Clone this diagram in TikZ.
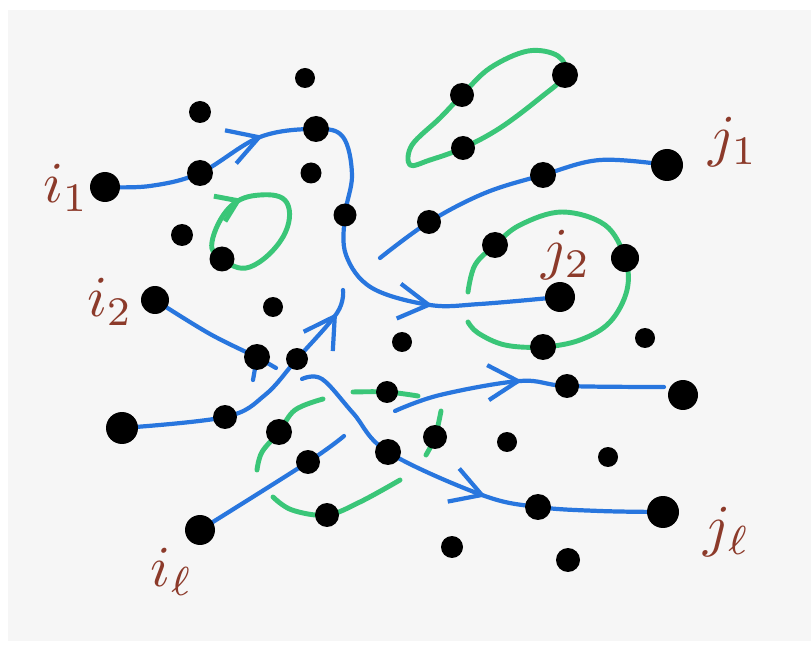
\documentclass[tikz,border=0pt]{standalone}
\usepackage{tikz}
\usetikzlibrary{arrows.meta,decorations.markings}
\definecolor{inkblue}{RGB}{40,118,222}
\definecolor{inkgreen}{RGB}{58,198,120}
\definecolor{inkbrown}{RGB}{140,58,42}
\definecolor{paper}{RGB}{246,246,246}
\pgfdeclarelayer{bg}
\pgfsetlayers{bg,main}

\begin{document}
\begin{tikzpicture}[x=0.02cm,y=-0.02cm,
  dot/.style={circle,fill=black,inner sep=0pt,minimum size=#1},
  dot/.default=5mm,
  flow/.style={draw=inkblue,line width=2.4pt,line cap=round,line join=round},
  cyc/.style={draw=inkgreen,line width=2.8pt,line cap=round,line join=round},
  lab/.style={text=inkbrown,scale=3.3,inner sep=0pt},
  mid/.style={postaction={decorate,decoration={markings,
    mark=at position #1 with {\arrow{Straight Barb[length=6mm,width=7mm]}}}}},
  gmid/.style={postaction={decorate,decoration={markings,
    mark=at position #1 with {\arrow{Straight Barb[length=4mm,width=5.5mm]}}}}}]
\useasboundingbox (0,0) rectangle (811,651);
\begin{pgfonlayer}{bg}
\fill[white] (0,0) rectangle (811,651);
\fill[paper] (8,10) rectangle (811,641);
\end{pgfonlayer}
% sources and targets
\node[dot=6mm] (i1) at (105,187) {};
\node[dot=5.6mm] (i2) at (155,300) {};
\node[dot=6mm] (il) at (200,530) {};
\node[dot=6.4mm] (j1) at (667,165) {};
\node[dot=6mm] (j2) at (560,297) {};
\node[dot=6.4mm] (jl) at (663,512) {};
\node[lab] (ti1) at (66,188) {$i_1$};
\node[lab] (ti2) at (110,302) {$i_2$};
\node[lab] (til) at (172,572) {$i_\ell$};
\node[lab] (tj1) at (733,142) {$j_1$};
\node[lab] (tj2) at (566,255) {$j_2$};
\node[lab] (tjl) at (727,532) {$j_\ell$};
% the other vertices
\foreach \n/\x/\y/\d in {a1/305/78/4, a2/200/112/4.4, a3/316/129/5.2,
  a4/462/95/4.8, a5/565/75/5.2, a6/463/148/4.8, a7/200/173/5.2,
  a8/311/173/4.2, a9/345/215/4.6, a10/182/235/4.4, a11/222/259/5,
  a12/429/222/4.8, a13/543/175/5.2, a14/495/245/5.2, a15/625/258/5.6,
  a16/543/347/5.2, a17/645/338/4, a18/273/307/4, a19/402/342/4,
  a20/257/357/5.2, a21/297/359/4.4, a22/122/428/6.4, a23/225/417/4.8,
  a24/279/432/5.2, a25/308/462/4.8, a26/388/452/5.2, a27/387/392/4.4,
  a28/435/437/4.8, a29/507/442/4, a30/567/386/4.8, a31/683/395/6,
  a32/608/457/4, a33/538/507/5.2, a34/327/515/4.8, a35/452/547/4.4,
  a36/568/560/4.8}
  \node[dot=\d mm] (\n) at (\x,\y) {};
% free ends
\coordinate (s2) at (380,258);
\coordinate (e4) at (343,290);
\coordinate (e5) at (344,436);
\coordinate (s6) at (302,379);
\coordinate (s7) at (395,411);
\coordinate (e7) at (664,387);
\coordinate (b1) at (253,380);
\coordinate (b2) at (276,368);

\begin{pgfonlayer}{bg}
% blue paths
\draw[flow,mid=0.28,mid=0.79] plot[smooth,tension=0.6] coordinates {(i1.center) (150,186)
  (a7.center) (260,137) (a3.center) (343,137) (352,175) (a9.center) (346,255) (372,288)
  (430,305) (480,304) (j2.center)};
\draw[flow] plot[smooth,tension=0.6] coordinates {(s2) (a12.center) (485,193) (a13.center) (600,160) (j1.center)};
\draw[flow] plot[smooth,tension=0.6] coordinates {(i2.center) (210,334) (a20.center)};
\draw[flow] (a20.center) -- (b1) (a20.center) -- (b2);
\draw[flow,mid=0.915] plot[smooth,tension=0.6] coordinates {(a22.center) (a23.center) (265,395)
  (a21.center) (337,313) (e4)};
\draw[flow] plot[smooth,tension=0.6] coordinates {(il.center) (a25.center) (e5)};
\draw[flow,mid=0.56] plot[smooth,tension=0.6] coordinates {(s6) (322,379) (353,413)
  (a26.center) (482,495) (a33.center) (600,511) (jl.center)};
\draw[flow,mid=0.48] plot[smooth,tension=0.6] coordinates {(s7) (440,395) (520,381)
  (a30.center) (e7)};
% green cycles
\draw[cyc] plot[smooth cycle,tension=0.6] coordinates {(a4.center) (490,68) (528,51)
  (558,56) (a5.center) (540,98) (500,128) (a6.center) (430,160) (410,165) (412,145) (440,118)};
\draw[cyc,gmid=0.23] plot[smooth cycle,tension=0.7] coordinates {(a11.center) (212,242)
  (230,207) (260,195) (287,203) (283,237) (250,267)};
\draw[cyc] plot[smooth,tension=0.6] coordinates {(468,292) (475,265) (a14.center) (520,225)
  (562,212) (605,225) (a15.center) (627,290) (610,322) (580,340) (a16.center) (505,345)
  (478,333) (468,322)};
\draw[cyc] plot[smooth,tension=0.6] coordinates {(353,392) (a27.center) (418,396)};
\draw[cyc] plot[smooth,tension=0.6] coordinates {(441,411) (a28.center) (426,455)};
\draw[cyc] plot[smooth,tension=0.6] coordinates {(323,399) (295,410) (a24.center) (262,452) (257,470)};
\draw[cyc] plot[smooth,tension=0.6] coordinates {(273,497) (292,510) (a34.center) (360,502) (400,480)};
\end{pgfonlayer}
\end{tikzpicture}
\end{document}
